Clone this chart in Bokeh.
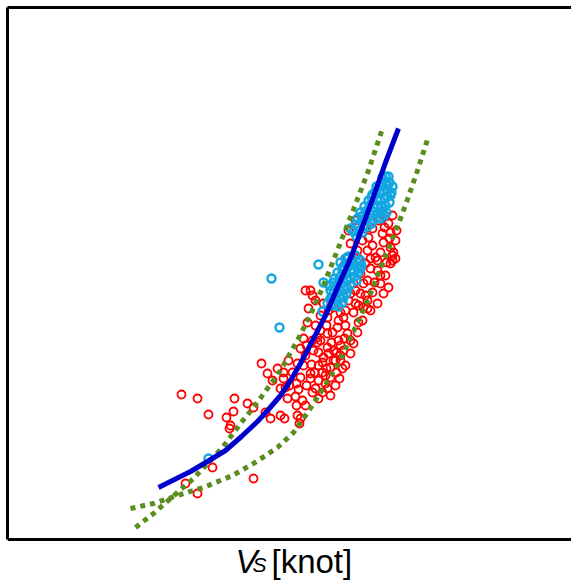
from bokeh.plotting import figure
from bokeh.models import Range1d, FixedTicker, Span
from bokeh.core.properties import value
from bokeh.embed import file_html
from bokeh.resources import INLINE

# ---- data (x: V_S, y: response) ----
red_x = [18.1, 19.7, 20.8, 22.6, 23.0, 22.9, 23.3, 23.4, 24.7, 25.3, 21.2, 18.5, 19.7, 25.3,
         26.1, 26.7, 27.2, 27.7, 28.3, 28.0, 26.5, 27.0, 28.0, 28.4, 29.7, 29.9, 28.7, 29.5,
         29.8, 29.6, 30.0, 30.3, 31.1, 31.4, 31.0, 32.5, 32.7, 32.3, 32.8, 33.0, 33.5, 34.0,
         31.0, 31.2, 31.5, 30.7, 31.5, 30.3, 30.0, 29.7, 28.3, 31.0, 32.2, 33.0, 31.5, 28.5,
         33.3, 34.0, 33.8, 33.2, 35.3, 35.7, 36.2, 36.7, 37.7, 37.2, 38.0, 39.0, 39.2, 37.7,
         37.0, 36.3, 35.0, 34.3, 34.7, 32.7, 32.3, 33.3, 35.3, 35.0, 33.3, 32.7, 31.7, 31.7,
         32.7, 33.7, 33.8, 34.3,
         38.8, 38.2, 38.3, 39.0, 39.3, 39.2, 38.0, 37.5, 36.7, 36.8, 36.5, 37.2, 36.5, 36.0,
         35.3, 35.5, 36.7, 38.3, 38.8, 38.0, 37.7, 36.0, 36.3, 34.8, 35.5, 35.0, 34.7, 35.7,
         36.7, 37.0, 30.5, 38.3, 37.8,
         31.8, 32.2, 33.6, 34.2, 32.0, 34.5, 31.2, 30.5, 33.5, 32.5, 34.0, 34.8, 35.5, 34.5,
         30.0, 31.8, 32.2, 39.2, 39.5, 39.0,
         30.6, 31.3, 32.0, 32.6, 33.1, 33.6, 34.4, 31.8, 32.6, 33.9, 31.8, 30.6, 31.2, 30.2,
         33.0, 34.5, 35.0, 35.8, 34.0, 32.8, 32.0, 30.8, 35.8, 36.5, 37.4, 38.5, 38.6, 39.5,
         38.9, 39.6, 37.2, 36.2, 35.8, 37.0, 38.4, 28.8, 29.2, 28.9, 30.5, 29.6]
red_y = [14.5, 14.1, 12.5, 12.2, 11.4, 11.1, 12.8, 14.1, 13.6, 13.2, 7.2, 5.6, 4.6, 6.1,
         17.6, 16.6, 15.9, 17.1, 16.7, 15.1, 12.7, 12.1, 12.4, 12.1, 12.4, 11.6, 14.1, 14.3,
         15.0, 15.6, 16.2, 17.4, 17.5, 16.7, 16.1, 15.6, 15.1, 18.2, 18.6, 17.2, 17.9, 18.4,
         24.9, 24.4, 23.9, 21.7, 21.4, 20.1, 19.1, 17.6, 16.1, 16.6, 16.7, 16.2, 15.1, 15.2,
         18.9, 17.9, 19.9, 20.7, 19.6, 20.7, 21.9, 23.1, 23.6, 24.7, 26.4, 27.6, 28.4, 27.9,
         27.1, 25.6, 24.6, 22.2, 20.6, 22.2, 23.6, 23.2, 22.7, 18.6, 17.9, 19.2, 19.7, 20.2,
         20.6, 21.2, 21.9, 18.9,
         31.6, 30.6, 29.7, 29.2, 28.7, 27.9, 28.7, 28.2, 28.9, 30.2, 31.1, 31.1, 27.6, 26.6,
         25.6, 24.9, 23.9, 24.6, 25.2, 25.6, 26.9, 24.6, 23.2, 30.9, 31.9, 29.6, 28.2, 28.9,
         25.9, 22.9, 24.9, 32.6, 31.9,
         18.7, 17.7, 16.7, 17.1, 20.9, 21.4, 19.9, 18.4, 15.4, 16.4, 19.4, 23.9, 23.6, 22.9,
         12.1, 14.1, 14.7, 32.4, 29.9, 30.7,
         19.4, 18.9, 19.9, 21.4, 19.7, 18.7, 20.1, 17.4, 17.1, 16.1, 15.9, 15.4, 14.7, 13.9,
         14.4, 17.4, 19.9, 21.7, 22.7, 22.9, 22.4, 23.1, 23.4, 24.4, 25.7, 26.4, 27.7, 28.1,
         30.1, 30.9, 29.4, 29.9, 28.1, 28.1, 31.2, 17.9, 16.7, 15.4, 13.4, 13.4]

cyan_x = [38.5, 38.9, 38.2, 37.6, 38.6, 39.1, 38.0, 37.2, 38.4, 37.7, 36.8, 38.9, 38.1, 37.3,
          36.4, 38.6, 37.7, 36.9, 36.0, 37.2, 36.4, 35.7, 36.7, 35.8, 35.3, 35.6, 38.0, 36.2,
          38.7, 38.3, 37.9, 37.5, 37.1, 38.7, 38.0, 38.5, 37.7, 36.9, 38.2, 37.3, 36.5, 37.6,
          36.8, 36.1, 36.3, 37.1, 35.9, 35.5, 38.4, 39.0, 39.2, 38.8, 38.2,
          35.5, 36.0, 35.2, 34.5, 35.7, 35.0, 34.2, 33.7, 35.4, 34.6, 33.9, 33.3, 35.0, 34.3,
          33.6, 33.0, 34.6, 33.9, 33.2, 34.2, 33.5, 35.8, 36.1, 34.8, 34.0, 33.0, 32.7,
          35.2, 35.7, 34.8, 34.3, 35.3, 34.6, 34.0, 35.0, 34.3, 33.6, 34.7, 34.0, 33.3, 34.3,
          33.6, 33.8, 33.1, 35.6, 36.0, 34.5, 33.4, 32.9,
          27.1, 31.8, 27.9, 20.8, 32.3, 32.2, 35.0]
cyan_y = [36.3, 35.7, 35.7, 35.3, 35.0, 34.7, 34.7, 34.5, 34.1, 34.0, 33.9, 33.7, 33.3, 33.2,
          33.3, 32.7, 32.6, 32.6, 32.7, 32.0, 31.9, 32.1, 31.3, 31.3, 30.8, 30.3, 32.1, 30.7,
          35.4, 34.9, 35.3, 34.8, 34.2, 34.3, 33.9, 33.4, 33.4, 33.4, 32.9, 32.8, 32.8, 32.2,
          32.2, 32.3, 31.4, 31.6, 30.9, 31.5, 32.4, 34.4, 35.3, 36.3, 36.2,
          28.4, 27.9, 27.7, 27.6, 27.1, 26.9, 26.9, 26.7, 26.3, 26.1, 25.9, 25.7, 25.5, 25.2,
          25.1, 24.9, 24.6, 24.3, 24.2, 23.7, 23.5, 26.7, 27.4, 28.3, 27.7, 24.1, 23.6,
          28.1, 27.7, 27.3, 27.3, 26.9, 26.6, 26.3, 26.1, 25.7, 25.5, 25.1, 24.8, 24.6, 24.2,
          23.9, 23.3, 23.4, 25.9, 27.1, 28.1, 26.1, 25.4,
          26.1, 27.5, 21.2, 8.1, 25.7, 22.8, 31.1]

fit_x = [15.8, 17.4, 19.0, 20.7, 22.5, 24.1, 25.7, 26.8, 28.0, 29.0, 30.0, 31.2, 32.5,
         33.7, 35.0, 36.2, 37.3, 38.5, 39.8]
fit_y = [5.2, 6.0, 6.8, 7.8, 8.9, 10.3, 11.8, 13.0, 14.4, 15.9, 17.6, 19.9, 22.4,
         25.2, 28.1, 31.3, 34.3, 37.7, 41.1]

upper_x = [13.5, 15.3, 17.0, 19.3, 22.2, 24.0, 25.3, 26.7, 28.0, 29.0, 29.7, 31.0, 32.3,
           34.0, 35.3, 36.8, 38.2]
upper_y = [1.2, 2.6, 4.1, 6.1, 9.2, 11.6, 13.2, 15.1, 16.9, 18.7, 19.9, 22.5, 25.4,
           29.7, 33.0, 36.9, 41.1]

lower_x = [13.0, 15.3, 18.0, 20.3, 23.2, 25.3, 27.7, 29.3, 30.3, 31.3, 32.7, 34.0, 35.2,
           36.0, 37.0, 38.0, 39.0, 40.0, 40.7, 41.7, 42.8]
lower_y = [3.1, 3.6, 4.5, 5.2, 6.4, 7.6, 9.2, 10.7, 12.1, 13.6, 15.8, 18.0, 20.6,
           22.3, 24.6, 27.1, 29.6, 32.1, 34.0, 36.9, 40.3]

x_label_main = "V"
x_label_sub = "S"
x_label_unit = "[knot]"

Y_BOTTOM = 0.0   # data value of the lower frame line
Y_TOP = 53.2

# ---- figure ----
p = figure(width=571, height=581, output_backend="svg", toolbar_location=None,
           x_range=Range1d(0.7, 57.1), y_range=Range1d(-4.2, Y_TOP),
           x_axis_location="above", y_axis_location="left",
           min_border_left=7, min_border_top=7, min_border_right=0, min_border_bottom=0)
p.grid.visible = False
p.outline_line_color = None
p.background_fill_color = "white"
p.border_fill_color = "white"
for ax in p.axis:
    ax.ticker = FixedTicker(ticks=[])
    ax.major_tick_in = 0
    ax.major_tick_out = 0
    ax.minor_tick_in = 0
    ax.minor_tick_out = 0
    ax.major_label_text_font_size = "0px"
    ax.major_label_standoff = 0
    ax.axis_line_width = 3
    ax.axis_line_color = "black"
p.yaxis.bounds = (Y_BOTTOM, Y_TOP)
p.add_layout(Span(location=Y_BOTTOM, dimension="width", line_color="black", line_width=3))

p.scatter(red_x, red_y, marker="circle", size=8, fill_color=None,
          line_color="#ff0000", line_width=1.8)
p.scatter(cyan_x, cyan_y, marker="circle", size=8, fill_color=None,
          line_color="#12a6e2", line_width=2.4)
p.line(upper_x, upper_y, line_color="#5a8c1e", line_width=5, line_dash="5 5")
p.line(lower_x, lower_y, line_color="#5a8c1e", line_width=5, line_dash="5 5")
p.line(fit_x, fit_y, line_color="#0000cd", line_width=5)

font = value("Liberation Sans")
p.text(x=[23.5], y=[-2.2], text=[x_label_main], text_font=font,
       text_font_size="33px", text_font_style="italic",
       text_baseline="alphabetic", text_color="black")
p.text(x=[25.2], y=[-2.5], text=[x_label_sub], text_font=font,
       text_font_size="21px", text_font_style="italic",
       text_baseline="alphabetic", text_color="black")
p.text(x=[27.1], y=[-2.2], text=[x_label_unit], text_font=font,
       text_font_size="33px",
       text_baseline="alphabetic", text_color="black")

open("out.html", "w").write(file_html(p, INLINE))
